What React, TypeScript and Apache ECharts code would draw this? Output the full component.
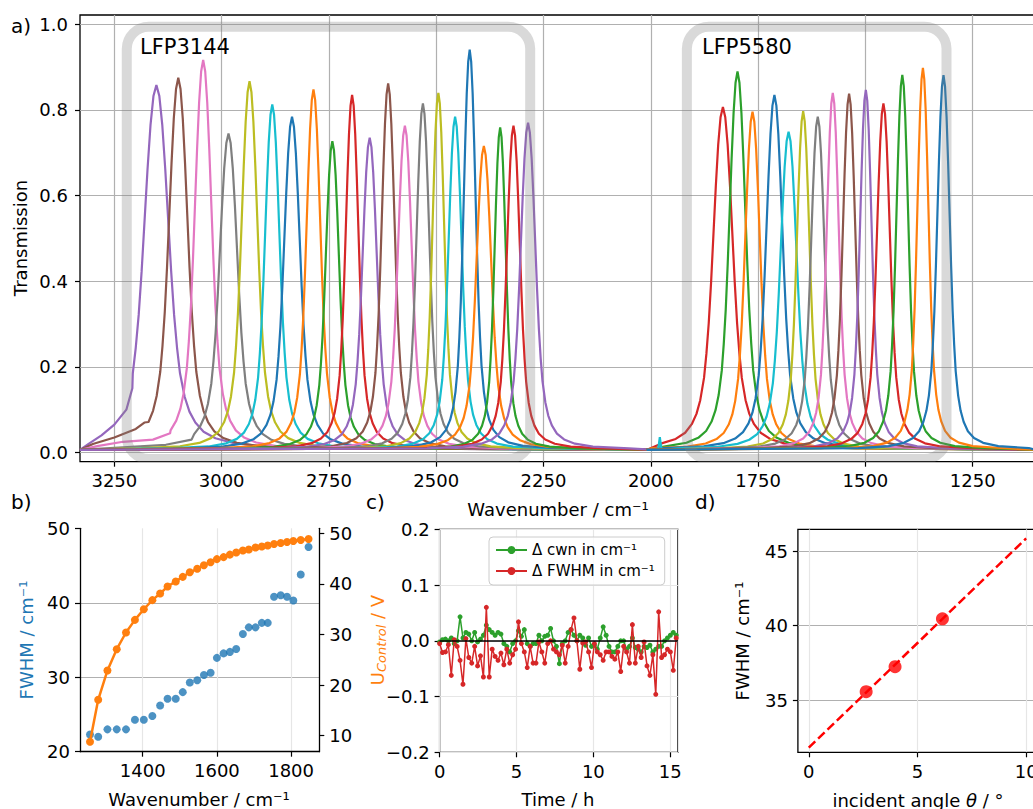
import React, { useEffect, useRef } from "react";
import * as echarts from "echarts";

const FONT = "DejaVu Sans";
const TAB = {
  blue: "#1f77b4", orange: "#ff7f0e", green: "#2ca02c", red: "#d62728", purple: "#9467bd",
  brown: "#8c564b", pink: "#e377c2", gray: "#7f7f7f", olive: "#bcbd22", cyan: "#17becf",
};

// ---------- panel a: filter transmission spectra ----------
const lfp3144Centers = [3152, 3101, 3043, 2984, 2935, 2882, 2836, 2786, 2742, 2696, 2655, 2612, 2573, 2531, 2495, 2456, 2422, 2389, 2351, 2320, 2286];
const lfp3144Heights = [0.858, 0.875, 0.917, 0.745, 0.867, 0.813, 0.784, 0.848, 0.727, 0.835, 0.735, 0.862, 0.763, 0.815, 0.84, 0.784, 0.941, 0.716, 0.759, 0.763, 0.77];
const lfp3144Widths = [27.5, 21.0, 19.0, 20.0, 18.0, 16.5, 18.0, 15.8, 15.2, 14.5, 16.3, 14.8, 15.8, 14.6, 13.5, 15.0, 13.8, 16.8, 12.8, 14.8, 16.8];
const lfp3144Colors = ["purple", "brown", "pink", "gray", "olive", "cyan", "blue", "orange", "green", "red", "purple", "brown", "pink", "gray", "olive", "cyan", "blue", "orange", "green", "red", "purple"];
// raised high-wavenumber shoulders of the first LFP3144 curves: [wavenumber, transmission]
const lfp3144Shoulders: number[][][] = [
  [[3310, 0.02], [3280, 0.04], [3250, 0.065], [3222, 0.1], [3208, 0.15]],
  [[3300, 0.02], [3250, 0.035], [3200, 0.055], [3180, 0.07]],
  [[3290, 0.015], [3230, 0.025], [3160, 0.03], [3120, 0.045]],
  [[3230, 0.012], [3130, 0.018], [3070, 0.03]],
];

const lfp5580Centers = [1832, 1798, 1763, 1712, 1679, 1645, 1611, 1576, 1538, 1499, 1458, 1414, 1366, 1318];
const lfp5580Heights = [0.807, 0.89, 0.796, 0.835, 0.749, 0.797, 0.784, 0.84, 0.838, 0.847, 0.815, 0.882, 0.898, 0.881];
const lfp5580Widths = [22.0, 18.3, 16.8, 18.3, 18.3, 14.4, 15.2, 13.8, 14.2, 13.3, 14.9, 13.6, 12.9, 14.2];
const lfp5580Colors = ["red", "green", "orange", "blue", "cyan", "olive", "gray", "pink", "brown", "purple", "red", "green", "orange", "blue"];

// measured line shape of one filter peak: offset from centre (in peak widths) -> relative level
const peakProfileOffsets = [0, 0.25, 0.5, 0.75, 1, 1.25, 1.5, 1.75, 2, 2.4, 2.8, 3.3, 4, 5, 6.5, 9, 14];
const peakProfileLevels = [1, 0.97, 0.89, 0.77, 0.63, 0.49, 0.37, 0.28, 0.21, 0.145, 0.105, 0.075, 0.05, 0.032, 0.019, 0.01, 0.005];
const spectrumBaseline = 0.006;
const cyanSpike = [[1983, 0.006], [1979, 0.036], [1975, 0.006]];

const spectrumXTicks = [3250, 3000, 2750, 2500, 2250, 2000, 1750, 1500, 1250];
const transmissionTicks = [0, 0.2, 0.4, 0.6, 0.8, 1.0];
// filter boxes: [wavenumber left, top, wavenumber right, bottom]
const filterBoxes = [[3221, 0.994, 2281, -0.015], [1916, 0.994, 1311, -0.015]];

// ---------- panel b ----------
const bWavenumber = [1258, 1280, 1305, 1330, 1355, 1379, 1403, 1426, 1447, 1467, 1489, 1508, 1527, 1547, 1565, 1583, 1600, 1618, 1635, 1652, 1670, 1686, 1704, 1721, 1737, 1754, 1772, 1789, 1806, 1826, 1847];
const bFwhm = [22.3, 22.0, 23.0, 23.0, 23.0, 24.3, 24.3, 24.8, 26.2, 27.1, 27.1, 28.0, 29.3, 29.6, 30.3, 30.6, 32.6, 33.2, 33.4, 33.8, 35.8, 36.7, 36.7, 37.3, 37.3, 40.8, 41.0, 40.8, 40.3, 43.8, 47.5];
const bUControl = [8.8, 17.1, 22.9, 27.1, 30.4, 32.9, 35.0, 36.8, 38.1, 39.5, 40.5, 41.4, 42.3, 43.0, 43.7, 44.3, 44.9, 45.3, 45.8, 46.2, 46.6, 46.8, 47.2, 47.4, 47.6, 47.9, 48.1, 48.3, 48.5, 48.7, 48.9];
const bXTicks = [1400, 1600, 1800];
const bRightTicks = [10, 20, 30, 40, 50];

// ---------- panel c ----------
const cSampleStepH = 0.19;
const cDeltaCwn = [
  -0.002, 0.002, 0.003, 0.0, 0.005, -0.005, 0.0, 0.043, 0.005, 0.015,
  0.012, 0.0, 0.015, -0.002, 0.003, 0.01, 0.028, 0.02, 0.015, 0.01,
  0.015, 0.012, -0.005, -0.01, -0.02, -0.005, 0.0, 0.018, 0.008, 0.02,
  -0.005, -0.01, -0.005, -0.005, 0.01, 0.0, 0.008, 0.01, 0.022, 0.0,
  -0.01, -0.041, -0.005, 0.0, 0.015, 0.02, 0.01, 0.0, 0.01, 0.005,
  -0.008, 0.005, -0.01, -0.008, -0.015, 0.005, 0.025, 0.01, -0.01, -0.02,
  -0.02, -0.01, 0.0, 0.0, -0.015, -0.01, 0.005, -0.012, -0.015, -0.02,
  -0.01, -0.012, -0.008, -0.02, -0.015, -0.01, -0.01, 0.0, 0.005, 0.01,
  0.015, 0.01,
];
const cDeltaFwhm = [
  -0.005, -0.021, -0.02, -0.007, -0.062, 0.002, -0.01, -0.035, -0.078, 0.004,
  -0.03, -0.04, -0.01, -0.045, -0.027, -0.065, 0.06, -0.065, -0.015, -0.028,
  -0.035, -0.022, -0.043, -0.015, -0.04, -0.025, -0.015, 0.034, -0.005, -0.02,
  -0.048, -0.01, -0.04, -0.04, -0.002, -0.02, -0.04, -0.005, 0.0, -0.015,
  -0.02, -0.025, -0.008, -0.04, -0.01, 0.02, 0.041, 0.0, -0.051, -0.004,
  -0.002, -0.02, -0.048, -0.005, -0.02, -0.025, -0.035, -0.02, -0.02, -0.028,
  -0.033, -0.02, -0.055, -0.01, -0.02, -0.04, 0.029, -0.04, -0.01, -0.03,
  -0.002, -0.045, -0.062, -0.025, -0.096, 0.052, -0.03, -0.025, -0.015, -0.02,
  -0.053, 0.005,
];

// ---------- panel d ----------
const dAngle = [2.64, 3.97, 6.15];
const dFwhm = [35.56, 37.24, 40.45];
const dFitAngle = [0, 10];
const dFitFwhm = [31.8, 45.85];
const dXTicks = [0, 5, 10];
const dYTicks = [35, 40, 45];

const LEG_CWN = "Δ cwn in cm⁻¹";
const LEG_FWHM = "Δ FWHM in cm⁻¹";

function buildPeak(center: number, height: number, width: number, spanHigh: number, spanLow: number, extra: number[][] = []) {
  const pts: number[][] = [[spanHigh, spectrumBaseline], ...extra];
  const lastExtra = extra.length ? extra[extra.length - 1] : null;
  const lvl = (i: number) => spectrumBaseline + (height - spectrumBaseline) * peakProfileLevels[i];
  for (let i = peakProfileOffsets.length - 1; i > 0; i--) {
    const x = center + peakProfileOffsets[i] * width;
    const y = lvl(i);
    if (lastExtra && (x >= lastExtra[0] || y <= lastExtra[1])) continue;
    if (x < spanHigh && x > spanLow) pts.push([x, y]);
  }
  pts.push([center, height]);
  for (let i = 1; i < peakProfileOffsets.length; i++) {
    const x = center - peakProfileOffsets[i] * width;
    if (x < spanHigh && x > spanLow) pts.push([x, lvl(i)]);
  }
  pts.push([spanLow, spectrumBaseline]);
  return pts;
}

const tickStyle = { show: true, length: 5, lineStyle: { color: "#000", width: 1.2 } };
const lblBase = { color: "#000", fontSize: 18, fontFamily: FONT };
const darkGrid = { show: true, lineStyle: { color: "#b0b0b0", width: 1.2 } };
const lightGrid = { show: true, lineStyle: { color: "#e6e6e6", width: 1.2 } };
const noAxisLine = { show: false, onZero: false };
const blackAxisLine = { show: true, onZero: false, lineStyle: { color: "#000", width: 1.3 } };
const fmt1 = (v: number) => (Math.abs(v) < 1e-9 ? "0.0" : (v < 0 ? "−" : "") + Math.abs(v).toFixed(1));

function buildOption() {
  const series: any[] = [];
  lfp3144Centers.forEach((c, i) => {
    series.push({
      type: "line", xAxisIndex: 0, yAxisIndex: 0, silent: true, symbol: "none", z: 2,
      data: buildPeak(c, lfp3144Heights[i], lfp3144Widths[i], 3330, 1990, lfp3144Shoulders[i] || []),
      lineStyle: { width: 2.2, color: (TAB as any)[lfp3144Colors[i]] },
      itemStyle: { color: (TAB as any)[lfp3144Colors[i]] },
    });
  });
  lfp5580Centers.forEach((c, i) => {
    series.push({
      type: "line", xAxisIndex: 0, yAxisIndex: 0, silent: true, symbol: "none", z: 2,
      data: buildPeak(c, lfp5580Heights[i], lfp5580Widths[i], 2010, 1102, i === 4 ? cyanSpike : []),
      lineStyle: { width: 2.2, color: (TAB as any)[lfp5580Colors[i]] },
      itemStyle: { color: (TAB as any)[lfp5580Colors[i]] },
    });
  });
  series.push({
    type: "custom", xAxisIndex: 0, yAxisIndex: 0, silent: true, clip: true, z: 5,
    data: filterBoxes,
    encode: { x: [0, 2], y: [1, 3] },
    renderItem: (_p: any, api: any) => {
      const a = api.coord([api.value(0), api.value(1)]);
      const b = api.coord([api.value(2), api.value(3)]);
      return {
        type: "rect",
        shape: { x: Math.min(a[0], b[0]), y: Math.min(a[1], b[1]), width: Math.abs(b[0] - a[0]), height: Math.abs(b[1] - a[1]), r: 22 },
        style: { fill: "none", stroke: "rgba(128,128,128,0.3)", lineWidth: 10 },
      };
    },
  });
  // panel b
  series.push({
    type: "scatter", xAxisIndex: 1, yAxisIndex: 1, silent: true, symbolSize: 8, z: 2,
    data: bWavenumber.map((w, i) => [w, bFwhm[i]]), itemStyle: { color: TAB.blue },
  });
  series.push({
    type: "line", xAxisIndex: 1, yAxisIndex: 2, silent: true, symbol: "circle", symbolSize: 8, z: 3,
    data: bWavenumber.map((w, i) => [w, bUControl[i]]),
    lineStyle: { width: 2.5, color: TAB.orange }, itemStyle: { color: TAB.orange },
  });
  // panel c
  series.push({
    type: "line", xAxisIndex: 2, yAxisIndex: 3, silent: true, symbol: "none", data: [], z: 1,
    markLine: { silent: true, symbol: "none", label: { show: false }, lineStyle: { color: "#000", width: 1.5, type: "solid" }, data: [{ yAxis: 0 }] },
  });
  series.push({
    name: LEG_CWN, type: "line", xAxisIndex: 2, yAxisIndex: 3, silent: true, symbol: "circle", symbolSize: 5, z: 2,
    data: cDeltaCwn.map((v, i) => [i * cSampleStepH, v]),
    lineStyle: { width: 1.5, color: TAB.green }, itemStyle: { color: TAB.green },
  });
  series.push({
    name: LEG_FWHM, type: "line", xAxisIndex: 2, yAxisIndex: 3, silent: true, symbol: "circle", symbolSize: 5, z: 3,
    data: cDeltaFwhm.map((v, i) => [i * cSampleStepH, v]),
    lineStyle: { width: 1.5, color: TAB.red }, itemStyle: { color: TAB.red },
  });
  // panel d
  series.push({
    type: "line", xAxisIndex: 3, yAxisIndex: 4, silent: true, symbol: "none", z: 2,
    data: dFitAngle.map((a, i) => [a, dFitFwhm[i]]),
    lineStyle: { width: 2.5, color: "#ff0000", type: [9, 4] },
  });
  series.push({
    type: "scatter", xAxisIndex: 3, yAxisIndex: 4, silent: true, symbolSize: 13, z: 3,
    data: dAngle.map((a, i) => [a, dFwhm[i]]), itemStyle: { color: "#ff0000" },
  });

  const txt = (text: string, x: number, y: number, extra: any = {}, rot = 0) => ({
    type: "text", x, y, rotation: rot, silent: true, z: 100,
    style: { text, fill: "#000", font: `18px "${FONT}"`, align: "center", verticalAlign: "middle", ...extra },
  });

  const graphic = [
    txt("a)", 11, 26, { align: "left", font: `20px "${FONT}"` }),
    txt("b)", 11, 502, { align: "left", font: `20px "${FONT}"` }),
    txt("c)", 366, 502, { align: "left", font: `20px "${FONT}"` }),
    txt("d)", 695, 502, { align: "left", font: `20px "${FONT}"` }),
    txt("LFP3144", 140, 47, { align: "left", font: `21px "${FONT}"` }),
    txt("LFP5580", 702, 47, { align: "left", font: `21px "${FONT}"` }),
    txt("Transmission", 20, 238, {}, Math.PI / 2),
    txt("Wavenumber / cm⁻¹", 558, 509),
    txt("FWHM / cm⁻¹", 26, 640, { fill: TAB.blue }, Math.PI / 2),
    {
      type: "text", x: 377, y: 640, rotation: Math.PI / 2, silent: true, z: 100,
      style: {
        text: "{n|U}{s|Control}{n| / V}", align: "center", verticalAlign: "middle",
        rich: {
          n: { fontSize: 18, fontFamily: FONT, fill: TAB.orange },
          s: { fontSize: 13, fontFamily: FONT, fontStyle: "italic", fill: TAB.orange, padding: [8, 0, 0, 0] },
        },
      },
    },
    txt("Wavenumber / cm⁻¹", 199, 799),
    txt("Time / h", 558, 799),
    txt("FWHM / cm⁻¹", 742, 641, {}, Math.PI / 2),
    {
      type: "text", x: 918, y: 800, silent: true, z: 100,
      style: {
        text: "{n|incident angle }{i|θ}{n| / °}", align: "center", verticalAlign: "middle",
        rich: {
          n: { fontSize: 18, fontFamily: FONT, fill: "#000" },
          i: { fontSize: 18, fontFamily: FONT, fontStyle: "italic", fill: "#000" },
        },
      },
    },
  ];

  return {
    animation: false,
    backgroundColor: "#fff",
    textStyle: { fontFamily: FONT },
    grid: [
      { left: 80, top: 15, width: 956, height: 446.7, show: true, borderColor: "#000", borderWidth: 1.3, containLabel: false, outerBoundsMode: "none" },
      { left: 80, top: 528.3, width: 239.3, height: 223.4, show: false, containLabel: false, outerBoundsMode: "none" },
      { left: 439.6, top: 529.3, width: 238.3, height: 223, show: true, borderColor: "#000", borderWidth: 1.3, containLabel: false, outerBoundsMode: "none" },
      { left: 797.9, top: 529.3, width: 239.1, height: 223, show: true, borderColor: "#000", borderWidth: 1.3, containLabel: false, outerBoundsMode: "none" },
    ],
    xAxis: [
      {
        gridIndex: 0, type: "value", inverse: true, min: 1102.5, max: 3330,
        axisLine: noAxisLine, axisTick: { ...tickStyle, customValues: spectrumXTicks },
        axisLabel: { ...lblBase, margin: 10, customValues: spectrumXTicks, formatter: (v: number) => String(v) },
        splitLine: darkGrid,
      },
      {
        gridIndex: 1, type: "value", min: 1231, max: 1876,
        axisLine: blackAxisLine, axisTick: { ...tickStyle, customValues: bXTicks },
        axisLabel: { ...lblBase, margin: 10, customValues: bXTicks, formatter: (v: number) => String(v) },
        splitLine: lightGrid,
      },
      {
        gridIndex: 2, type: "value", min: 0, max: 15.5, interval: 5,
        axisLine: noAxisLine, axisTick: tickStyle,
        axisLabel: { ...lblBase, margin: 10, showMaxLabel: false, formatter: (v: number) => String(v) },
        splitLine: lightGrid,
      },
      {
        gridIndex: 3, type: "value", min: -0.5, max: 10.5,
        axisLine: noAxisLine, axisTick: { ...tickStyle, customValues: dXTicks },
        axisLabel: { ...lblBase, margin: 10, customValues: dXTicks, formatter: (v: number) => String(v) },
        splitLine: lightGrid,
      },
    ],
    yAxis: [
      {
        gridIndex: 0, type: "value", min: -0.0215, max: 1.0217,
        axisLine: noAxisLine, axisTick: { ...tickStyle, customValues: transmissionTicks },
        axisLabel: { ...lblBase, margin: 12, customValues: transmissionTicks, formatter: fmt1 },
        splitLine: darkGrid,
      },
      {
        gridIndex: 1, type: "value", min: 20, max: 50, interval: 10,
        axisLine: blackAxisLine, axisTick: tickStyle,
        axisLabel: { ...lblBase, margin: 10, formatter: (v: number) => String(v) },
        splitLine: { ...darkGrid, showMinLine: false, showMaxLine: false },
      },
      {
        gridIndex: 1, type: "value", position: "right", min: 6.84, max: 51.0,
        axisLine: blackAxisLine, axisTick: { ...tickStyle, customValues: bRightTicks },
        axisLabel: { ...lblBase, margin: 10, customValues: bRightTicks, formatter: (v: number) => String(v) },
        splitLine: { show: false },
      },
      {
        gridIndex: 2, type: "value", min: -0.2, max: 0.2, interval: 0.1,
        axisLine: noAxisLine, axisTick: tickStyle,
        axisLabel: { ...lblBase, margin: 10, formatter: fmt1 },
        splitLine: lightGrid,
      },
      {
        gridIndex: 3, type: "value", min: 31.49, max: 46.46,
        axisLine: noAxisLine, axisTick: { ...tickStyle, customValues: dYTicks },
        axisLabel: { ...lblBase, margin: 10, customValues: dYTicks, formatter: (v: number) => String(v) },
        splitLine: darkGrid,
      },
    ],
    legend: {
      data: [LEG_CWN, LEG_FWHM], left: 489, top: 537, orient: "vertical",
      backgroundColor: "rgba(255,255,255,0.8)", borderColor: "#cccccc", borderWidth: 1, borderRadius: 4,
      padding: [5, 10, 6, 6], itemGap: 5, itemWidth: 31, itemHeight: 10,
      textStyle: { fontSize: 15, fontFamily: FONT, color: "#000", lineHeight: 16 },
      selectedMode: false,
    },
    graphic,
    series,
  };
}

export default function App() {
  const ref = useRef<HTMLDivElement>(null);
  useEffect(() => {
    if (!ref.current) return;
    const chart = echarts.init(ref.current, null, { renderer: "svg" });
    chart.setOption(buildOption() as any);
    return () => chart.dispose();
  }, []);
  return (
    <div style={{ position: "fixed", left: 0, top: 0, width: 1033, height: 809, overflow: "hidden", background: "#fff" }}>
      <div ref={ref} style={{ width: 1060, height: 809 }} />
    </div>
  );
}
